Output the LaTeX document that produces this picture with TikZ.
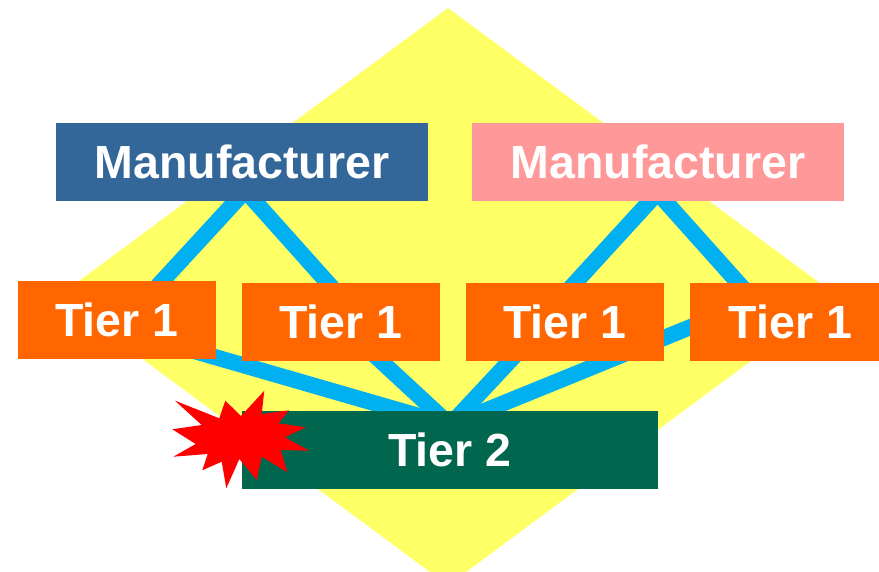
\documentclass[tikz,border=0pt]{standalone}
\usepackage{fontspec}
\setmainfont{Liberation Sans}
\usetikzlibrary{backgrounds,calc}
\definecolor{diam}{RGB}{255,255,102}
\definecolor{mblue}{RGB}{51,102,153}
\definecolor{mpink}{RGB}{255,153,153}
\definecolor{torange}{RGB}{255,102,0}
\definecolor{tgreen}{RGB}{0,102,77}
\definecolor{link}{RGB}{0,176,240}
\tikzset{
 boxn/.style={inner sep=0pt,outer sep=0pt,text=white,font=\fontsize{46.5}{50}\selectfont\bfseries},
 mfr/.style={boxn,minimum width=372pt,minimum height=78pt},
 tierone/.style={boxn,fill=torange,minimum width=198pt,minimum height=78pt},
 conn/.style={draw=link,line width=16pt}
}
\begin{document}
\begin{tikzpicture}[x=1pt,y=-1pt]
\useasboundingbox (0,0) rectangle (879,572);
\node[mfr,fill=mblue] (m1) at (242,162) {Manufacturer};
\node[mfr,fill=mpink] (m2) at (658,162) {Manufacturer};
\node[tierone] (ta) at (117,320) {Tier 1};
\node[tierone] (tb) at (341,322) {Tier 1};
\node[tierone] (tc) at (565,322) {Tier 1};
\node[tierone,minimum width=189pt] (td) at (784.5,322) {\hspace*{12pt}Tier 1};
\node[boxn,fill=tgreen,minimum width=416pt,minimum height=78pt] (t2) at (450,450) {Tier 2};
\coordinate (m1j) at ($(m1.center)+(3.4,28.7)$);
\coordinate (m2j) at ($(m2.center)+(-0.4,30.7)$);
\coordinate (t2j) at ($(t2.center)+(0,-25)$);
\coordinate (taj) at ($(ta.center)+(1,9)$);
\coordinate (tbu) at ($(tb.center)+(8.4,-15)$);
\coordinate (tbd) at ($(tb.center)+(10.7,12)$);
\coordinate (tcu) at ($(tc.center)+(-12,-15)$);
\coordinate (tcd) at ($(tc.center)+(-30,12)$);
\coordinate (tdu) at ($(td.center)+(-24.7,-15)$);
\coordinate (tdd) at ($(td.center)+(-54.5,-11)$);
\begin{scope}[on background layer]
\fill[diam] (448,8) -- (838,296.5) -- (466,572) -- (430,572) -- (58,296.5) -- cycle;
\draw[conn] (m1j) -- (taj);
\draw[conn] (m1j) -- (tbu);
\draw[conn] (m2j) -- (tcu);
\draw[conn] (m2j) -- (tdu);
\draw[conn] (taj) -- (t2j);
\draw[conn] (tbd) -- (t2j);
\draw[conn] (tcd) -- (t2j);
\draw[conn] (tdd) -- (t2j);
\end{scope}
\fill[red] (175,400.7) -- (219.3,418.3) -- (225.3,400.7) -- (241,416) -- (264.3,390.7) -- (261.7,414) -- (289,410.3) -- (278.3,423.3) -- (305.7,427.3) -- (285,437.3) -- (309,450.7) -- (280.7,450) -- (287.3,472.3) -- (261.7,456.7) -- (256.7,480) -- (239.3,459) -- (226.3,488.3) -- (221.7,461.7) -- (202.3,470.3) -- (207.7,454) -- (173.3,456.7) -- (195.7,444) -- (172.3,429.3) -- (201.7,425) -- cycle;
\end{tikzpicture}
\end{document}
